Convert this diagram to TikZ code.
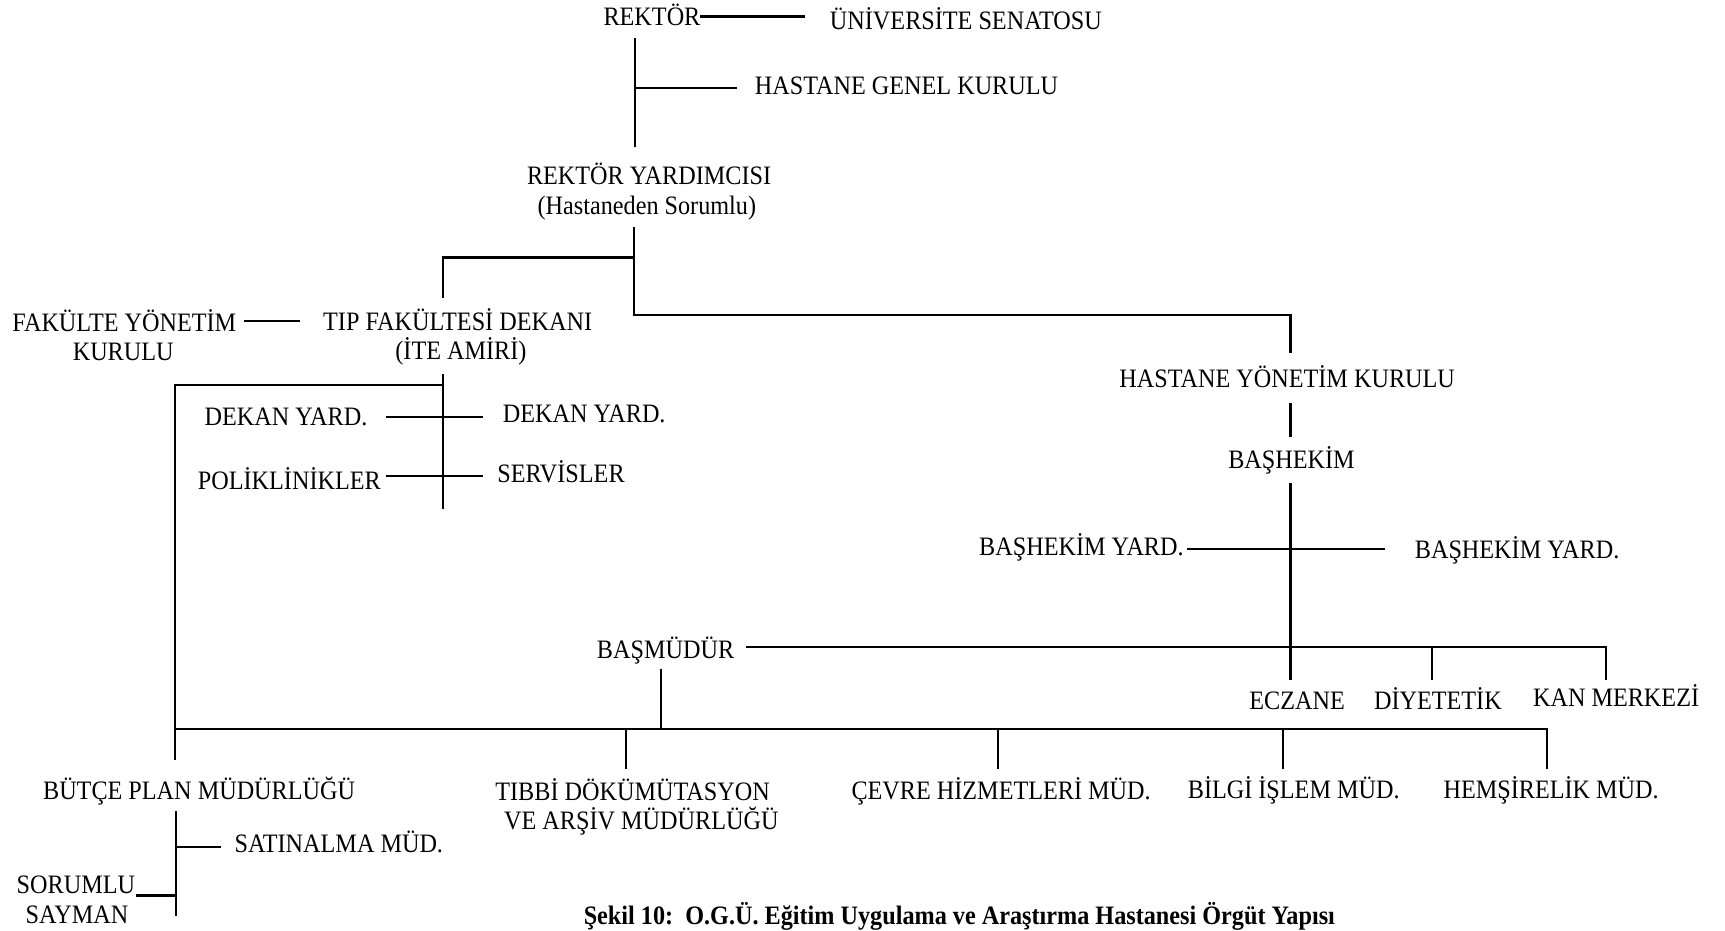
\documentclass[tikz,border=0pt]{standalone}
\usepackage{fontspec}
\setmainfont{Liberation Serif}[FakeStretch=0.91]
\tikzset{
  lbl/.style={inner sep=0pt, text height=8.8pt, text depth=0pt,
              font=\fontsize{13.3}{16}\selectfont},
  captionlbl/.style={lbl, font=\fontsize{13.3}{16}\selectfont\bfseries},
  link/.style={line width=1.1pt, line cap=rect}
}
\begin{document}
\begin{tikzpicture}[x=0.55pt,y=-0.55pt]
\useasboundingbox (0,0) rectangle (1568,846);

% ---- top: rector, senate, general board ----
\node[lbl, anchor=east] (rektor) at (637,15) {REKTÖR};
\node[lbl] (senato) at (878,19) {ÜNİVERSİTE SENATOSU};
\node[lbl] (hgk) at (824,78) {HASTANE GENEL KURULU};
\node[lbl] (ry) at (590,160) {REKTÖR YARDIMCISI};
\node[lbl] (rys) at (588,187) {(Hastaneden Sorumlu)};

% ---- faculty side ----
\node[lbl] (fyk) at (113,293) {FAKÜLTE YÖNETİM};
\node[lbl] (fyks) at (112,320) {KURULU};
\node[lbl] (tip) at (416,292) {TIP FAKÜLTESİ DEKANI};
\node[lbl] (tips) at (419,319) {(İTE AMİRİ)};
\node[lbl] (dyL) at (260,379) {DEKAN YARD.};
\node[lbl] (dyR) at (531,376) {DEKAN YARD.};
\node[lbl] (polik) at (263,437) {POLİKLİNİKLER};
\node[lbl] (servis) at (510,431) {SERVİSLER};

% ---- hospital side ----
\node[lbl] (hyk) at (1170,344) {HASTANE YÖNETİM KURULU};
\node[lbl] (bashekim) at (1174,418) {BAŞHEKİM};
\node[lbl] (bhyL) at (983,497) {BAŞHEKİM YARD.};
\node[lbl] (bhyR) at (1379,500) {BAŞHEKİM YARD.};
\node[lbl] (basmudur) at (605,591) {BAŞMÜDÜR};
\node[lbl] (eczane) at (1179,637) {ECZANE};
\node[lbl] (diyet) at (1307,637) {DİYETETİK};
\node[lbl] (kan) at (1469,634) {KAN MERKEZİ};

% ---- directorates ----
\node[lbl] (butce) at (181,719) {BÜTÇE PLAN MÜDÜRLÜĞÜ};
\node[lbl] (tibbi) at (575,720) {TIBBİ DÖKÜMÜTASYON};
\node[lbl] (tibbis) at (583,746) {VE ARŞİV MÜDÜRLÜĞÜ};
\node[lbl] (cevre) at (910,719) {ÇEVRE HİZMETLERİ MÜD.};
\node[lbl] (bilgi) at (1176,718) {BİLGİ İŞLEM MÜD.};
\node[lbl] (hemsire) at (1410,718) {HEMŞİRELİK MÜD.};
\node[lbl] (satin) at (308,767) {SATINALMA MÜD.};
\node[lbl] (sorumlu) at (69,804) {SORUMLU};
\node[lbl] (sayman) at (70,831) {SAYMAN};

\node[captionlbl] (caption) at (872,832) {Şekil 10:\ \ O.G.Ü. Eğitim Uygulama ve Araştırma Hastanesi Örgüt Yapısı};

% ---- junctions and free line ends ----
\coordinate (senL) at (731,15);
\coordinate (rTop) at (577,36);
\coordinate (rBot) at (577,133);
\coordinate (rJ) at (577,80);
\coordinate (hgkL) at (669,80);
\coordinate (ryBot) at (576,207);
\coordinate (ryJ) at (576,234);
\coordinate (ryK) at (576,286);
\coordinate (tipTop) at (403,270);
\coordinate (hykTop) at (1173,320);
\coordinate (fykR) at (223,292);
\coordinate (tipL) at (272,292);
\coordinate (dekTop) at (403,341);
\coordinate (dekBot) at (403,462);
\coordinate (brTop) at (159,350);
\coordinate (brBot) at (159,690);
\coordinate (dyLR) at (352,379);
\coordinate (dyRL) at (438,379);
\coordinate (polR) at (352,433);
\coordinate (serL) at (438,433);
\coordinate (hykBot) at (1173,367);
\coordinate (bhTop) at (1173,396);
\coordinate (bhBot) at (1173,440);
\coordinate (eczTop) at (1173,617);
\coordinate (bhyLR) at (1080,499);
\coordinate (bhyRL) at (1258,499);
\coordinate (bmR) at (679,588);
\coordinate (diyTop) at (1302,617);
\coordinate (kanTop) at (1460,617);
\coordinate (bmBot) at (601,609);
\coordinate (bmJ) at (601,663);
\coordinate (dirL) at (159,663);
\coordinate (tibTop) at (569,698);
\coordinate (cevTop) at (907,698);
\coordinate (bilTop) at (1166,698);
\coordinate (hemTop) at (1406,698);
\coordinate (btTop) at (160,738);
\coordinate (btBot) at (160,832);
\coordinate (satJ) at (160,770);
\coordinate (satL) at (200,770);
\coordinate (sorJ) at (160,814);
\coordinate (sorR) at (125,814);

% ---- connectors ----
\draw[link] (rektor.east) -- (senL);
\draw[link] (rTop) -- (rBot);
\draw[link] (rJ) -- (hgkL);
\draw[link] (ryBot) -- (ryK) -| (hykTop);
\draw[link] (ryJ) -| (tipTop);
\draw[link] (fykR) -- (tipL);
\draw[link] (dekTop) -- (dekBot);
\draw[link] (dekTop |- brTop) -- (brTop) -- (brBot);
\draw[link] (dyLR) -- (dyRL);
\draw[link] (polR) -- (serL);
\draw[link] (hykBot) -- (bhTop);
\draw[link] (bhBot) -- (eczTop);
\draw[link] (bhyLR) -- (bhyRL);
\draw[link] (bmR) -| (kanTop);
\draw[link] (diyTop |- bmR) -- (diyTop);
\draw[link] (bmBot) -- (bmJ);
\draw[link] (dirL) -| (hemTop);
\draw[link] (tibTop |- dirL) -- (tibTop);
\draw[link] (cevTop |- dirL) -- (cevTop);
\draw[link] (bilTop |- dirL) -- (bilTop);
\draw[link] (btTop) -- (btBot);
\draw[link] (satJ) -- (satL);
\draw[link] (sorJ) -- (sorR);
\end{tikzpicture}
\end{document}
